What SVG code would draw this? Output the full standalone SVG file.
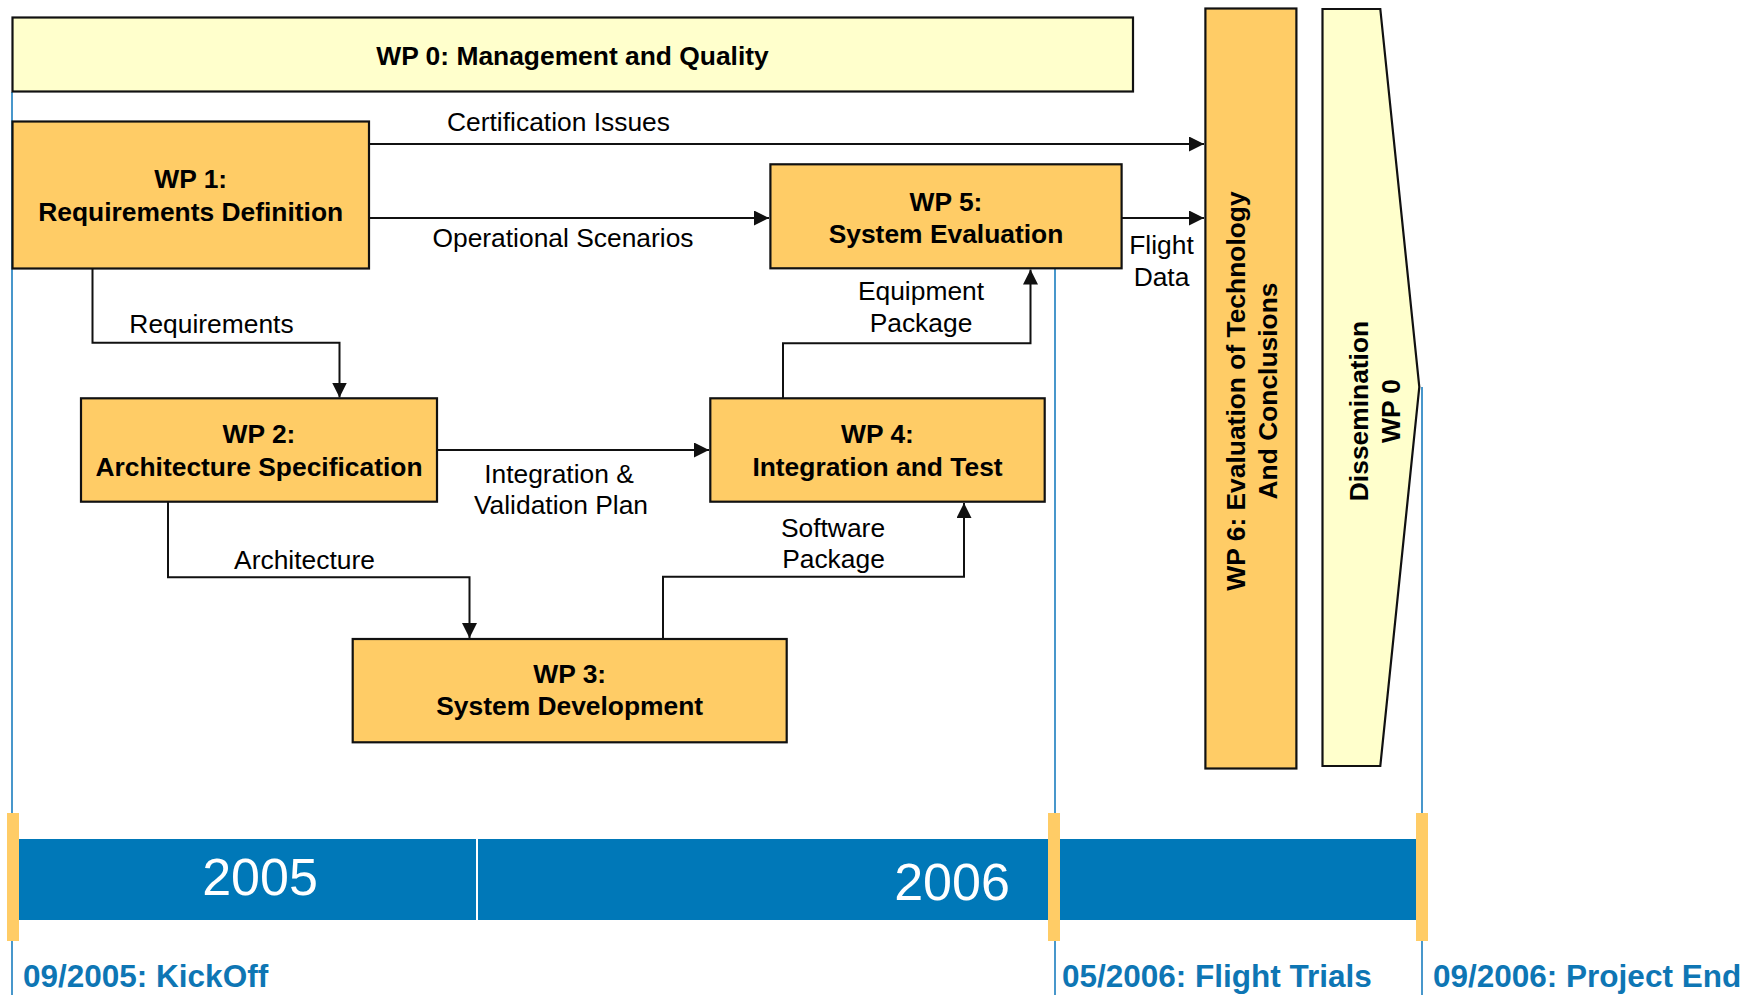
<svg xmlns="http://www.w3.org/2000/svg" width="1762" height="995" viewBox="0 0 1762 995">
<defs>
<style>
.box{fill:#FFCC66;stroke:#111;stroke-width:2.2}
.ybox{fill:#FFFFCC;stroke:#111;stroke-width:2.2}
.bt{font-family:"Liberation Sans",Arial,sans-serif;font-weight:bold;font-size:26.4px;fill:#000;text-anchor:middle}
.lt{font-family:"Liberation Sans",Arial,sans-serif;font-size:26.4px;fill:#000;text-anchor:middle}
.conn{fill:none;stroke:#111;stroke-width:2}
.ms{stroke:#1A7DBE;stroke-width:1.6}
.tick{fill:#FFCC66}
.mt{font-family:"Liberation Sans",Arial,sans-serif;font-weight:bold;font-size:31.5px;fill:#0E76B4}
.yr{font-family:"Liberation Sans",Arial,sans-serif;font-size:52px;fill:#fff;text-anchor:middle}
</style>
<marker id="arr" markerUnits="userSpaceOnUse" markerWidth="15" markerHeight="15" refX="15" refY="7.5" orient="auto" viewBox="0 0 15 15">
<path d="M0,0 L15,7.5 L0,15 z" fill="#111"/>
</marker>
</defs>
<rect width="1762" height="995" fill="#fff"/>

<g id="milestone-lines">
<line class="ms" x1="12" y1="92" x2="12" y2="995"/>
<line class="ms" x1="1055" y1="268" x2="1055" y2="995"/>
<line class="ms" x1="1422" y1="387" x2="1422" y2="995"/>
</g>

<g id="timeline">
<rect x="13" y="839" width="1409" height="81" fill="#0078B8"/>
<line x1="477" y1="839" x2="477" y2="920" stroke="#fff" stroke-width="2"/>
<text class="yr" x="260" y="895">2005</text>
<text class="yr" x="952" y="900">2006</text>
<rect class="tick" x="7" y="813" width="12" height="128"/>
<rect class="tick" x="1048" y="813" width="12" height="128"/>
<rect class="tick" x="1416" y="813" width="12" height="128"/>
<text class="mt" x="23" y="987">09/2005: KickOff</text>
<text class="mt" x="1062" y="987">05/2006: Flight Trials</text>
<text class="mt" x="1433" y="987">09/2006: Project End</text>
</g>

<g id="wp0">
<rect class="ybox" x="12.5" y="17.5" width="1120.5" height="74"/>
<text class="bt" x="572.5" y="65">WP 0: Management and Quality</text>
</g>

<g id="wp1">
<rect class="box" x="12.5" y="121.5" width="356.5" height="147"/>
<text class="bt" x="190.7" y="188">WP 1:</text>
<text class="bt" x="190.7" y="220.7">Requirements Definition</text>
</g>

<g id="wp2">
<rect class="box" x="81" y="398.3" width="356" height="103.4"/>
<text class="bt" x="259" y="443.3">WP 2:</text>
<text class="bt" x="259" y="475.7">Architecture Specification</text>
</g>

<g id="wp3">
<rect class="box" x="352.7" y="639" width="434" height="103.3"/>
<text class="bt" x="569.7" y="683.3">WP 3:</text>
<text class="bt" x="569.7" y="715">System Development</text>
</g>

<g id="wp4">
<rect class="box" x="710.3" y="398.3" width="334.4" height="103.4"/>
<text class="bt" x="877.5" y="443.3">WP 4:</text>
<text class="bt" x="877.5" y="475.7">Integration and Test</text>
</g>

<g id="wp5">
<rect class="box" x="770.4" y="164.3" width="351.2" height="104"/>
<text class="bt" x="946" y="210.7">WP 5:</text>
<text class="bt" x="946" y="242.7">System Evaluation</text>
</g>

<g id="wp6">
<rect class="box" x="1205.4" y="8.5" width="91" height="760"/>
<g transform="translate(1251,391) rotate(-90)">
<text class="bt" x="0" y="-6">WP 6: Evaluation of Technology</text>
<text class="bt" x="0" y="25.5">And Conclusions</text>
</g>
</g>

<g id="dissemination">
<polygon class="ybox" points="1322.5,9 1380.3,9 1419.3,387 1380.3,766 1322.5,766"/>
<g transform="translate(1374,411) rotate(-90)">
<text class="bt" x="0" y="-6">Dissemination</text>
<text class="bt" x="0" y="25.5">WP 0</text>
</g>
</g>

<g id="connectors">
<path class="conn" d="M369,144 H1204" marker-end="url(#arr)"/>
<path class="conn" d="M369,218 H769" marker-end="url(#arr)"/>
<path class="conn" d="M1121.6,218 H1204" marker-end="url(#arr)"/>
<path class="conn" d="M92.5,268.3 V342.7 H339.5 V397.5" marker-end="url(#arr)"/>
<path class="conn" d="M437,450 H709" marker-end="url(#arr)"/>
<path class="conn" d="M168,501.7 V577.3 H469.5 V638" marker-end="url(#arr)"/>
<path class="conn" d="M663,639 V576.7 H964 V503" marker-end="url(#arr)"/>
<path class="conn" d="M783,398.3 V343.3 H1030.5 V269.5" marker-end="url(#arr)"/>
</g>

<g id="connector-labels">
<text class="lt" x="558.5" y="131">Certification Issues</text>
<text class="lt" x="563" y="247.3">Operational Scenarios</text>
<text class="lt" x="1161.5" y="254">Flight</text>
<text class="lt" x="1161.5" y="285.5">Data</text>
<text class="lt" x="211.5" y="333">Requirements</text>
<text class="lt" x="559" y="482.7">Integration &amp;</text>
<text class="lt" x="561" y="514">Validation Plan</text>
<text class="lt" x="304.5" y="569">Architecture</text>
<text class="lt" x="833" y="536.7">Software</text>
<text class="lt" x="833.5" y="568.3">Package</text>
<text class="lt" x="921" y="300">Equipment</text>
<text class="lt" x="921" y="331.7">Package</text>
</g>
</svg>
